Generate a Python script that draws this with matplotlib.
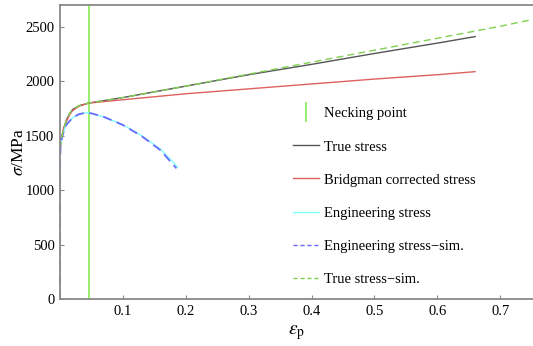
import numpy as np
import matplotlib
matplotlib.use("Agg")
import matplotlib.pyplot as plt
from matplotlib.lines import Line2D

plt.rcParams['font.family'] = ['Liberation Serif', 'DejaVu Serif']
plt.rcParams['mathtext.fontset'] = 'stix'

# data
necking_strain = 0.046

true_x = [0.0, 0.001, 0.003, 0.006, 0.01, 0.015, 0.02, 0.03, 0.046, 0.1, 0.2, 0.3, 0.4, 0.5, 0.6, 0.66]
true_y = [1380, 1420, 1490, 1570, 1640, 1700, 1740, 1775, 1800, 1850, 1955, 2060, 2155, 2255, 2350, 2410]

bridg_x = [0.0, 0.001, 0.003, 0.006, 0.01, 0.015, 0.02, 0.03, 0.046, 0.1, 0.2, 0.3, 0.4, 0.5, 0.6, 0.66]
bridg_y = [1380, 1420, 1490, 1570, 1630, 1690, 1730, 1770, 1800, 1830, 1885, 1930, 1975, 2020, 2060, 2088]

eng_x = [0.0, 0.001, 0.003, 0.006, 0.01, 0.02, 0.03, 0.04, 0.05, 0.07, 0.1, 0.13, 0.16, 0.187]
eng_y = [1380, 1420, 1480, 1540, 1600, 1665, 1697, 1710, 1705, 1672, 1600, 1500, 1375, 1213]

engsim_x = [0.0, 0.0, 0.001, 0.003, 0.006, 0.01, 0.02, 0.03, 0.04, 0.05, 0.07, 0.1, 0.13, 0.16, 0.185]
engsim_y = [0, 1250, 1420, 1480, 1540, 1600, 1665, 1697, 1710, 1705, 1672, 1598, 1495, 1365, 1200]

truesim_x = [0.0, 0.001, 0.003, 0.006, 0.01, 0.015, 0.02, 0.03, 0.046, 0.1, 0.2, 0.25, 0.3, 0.4, 0.5, 0.6, 0.7, 0.75]
truesim_y = [1380, 1420, 1490, 1570, 1640, 1700, 1740, 1775, 1800, 1850, 1955, 2010, 2065, 2175, 2285, 2395, 2505, 2565]

fig = plt.figure(figsize=(5.33, 3.46), dpi=100)
ax = fig.add_axes([0.1126, 0.1358, 0.8874, 0.8497])

ax.axvline(necking_strain, color='#90ee60', lw=1.3)
ax.plot(true_x, true_y, color='#555555', lw=1.0)
ax.plot(bridg_x, bridg_y, color='#e06060', lw=1.0)
ax.plot(eng_x, eng_y, color='#80ffff', lw=1.0)
ax.plot(engsim_x, engsim_y, color='#6a6aff', lw=1.3, ls=(0, (5, 3)))
ax.plot(truesim_x, truesim_y, color='#80d050', lw=1.0, ls=(0, (5, 3)))

ax.set_xlim(0, 0.752)
ax.set_ylim(0, 2700)
ax.set_xticks([0.1, 0.2, 0.3, 0.4, 0.5, 0.6, 0.7])
ax.set_xticklabels(['0.1', '0.2', '0.3', '0.4', '0.5', '0.6', '0.7'])
ax.set_yticks([0, 500, 1000, 1500, 2000, 2500])

for s in ['left', 'bottom', 'top']:
    ax.spines[s].set_color('#888888')
    ax.spines[s].set_linewidth(1.3)
ax.spines['right'].set_visible(False)
ax.tick_params(direction='in', length=3, color='#888888', labelsize=10.5, pad=4)

ax.set_ylabel(r'$\sigma$/MPa', fontsize=12.5, labelpad=-1)
ax.set_xlabel(r'$\varepsilon_{\mathrm{p}}$', fontsize=14, labelpad=4)

handles = [
    Line2D([], [], color='#90ee60', marker='|', markersize=14, mew=1.3, ls='none'),
    Line2D([], [], color='#555555', lw=1.0),
    Line2D([], [], color='#e06060', lw=1.0),
    Line2D([], [], color='#80ffff', lw=1.0),
    Line2D([], [], color='#6a6aff', lw=1.0, ls=(0, (3, 2))),
    Line2D([], [], color='#80d050', lw=1.0, ls=(0, (3, 2))),
]
labels = ['Necking point', 'True stress', 'Bridgman corrected stress',
          'Engineering stress', 'Engineering stress\u2212sim.', 'True stress\u2212sim.']
ax.legend(handles, labels, loc='upper left', bbox_to_anchor=(0.48, 0.672),
          frameon=False, fontsize=10.5, handlelength=1.8, handletextpad=0.35,
          labelspacing=1.36, borderaxespad=0)

fig.savefig('out.png', dpi=100)
